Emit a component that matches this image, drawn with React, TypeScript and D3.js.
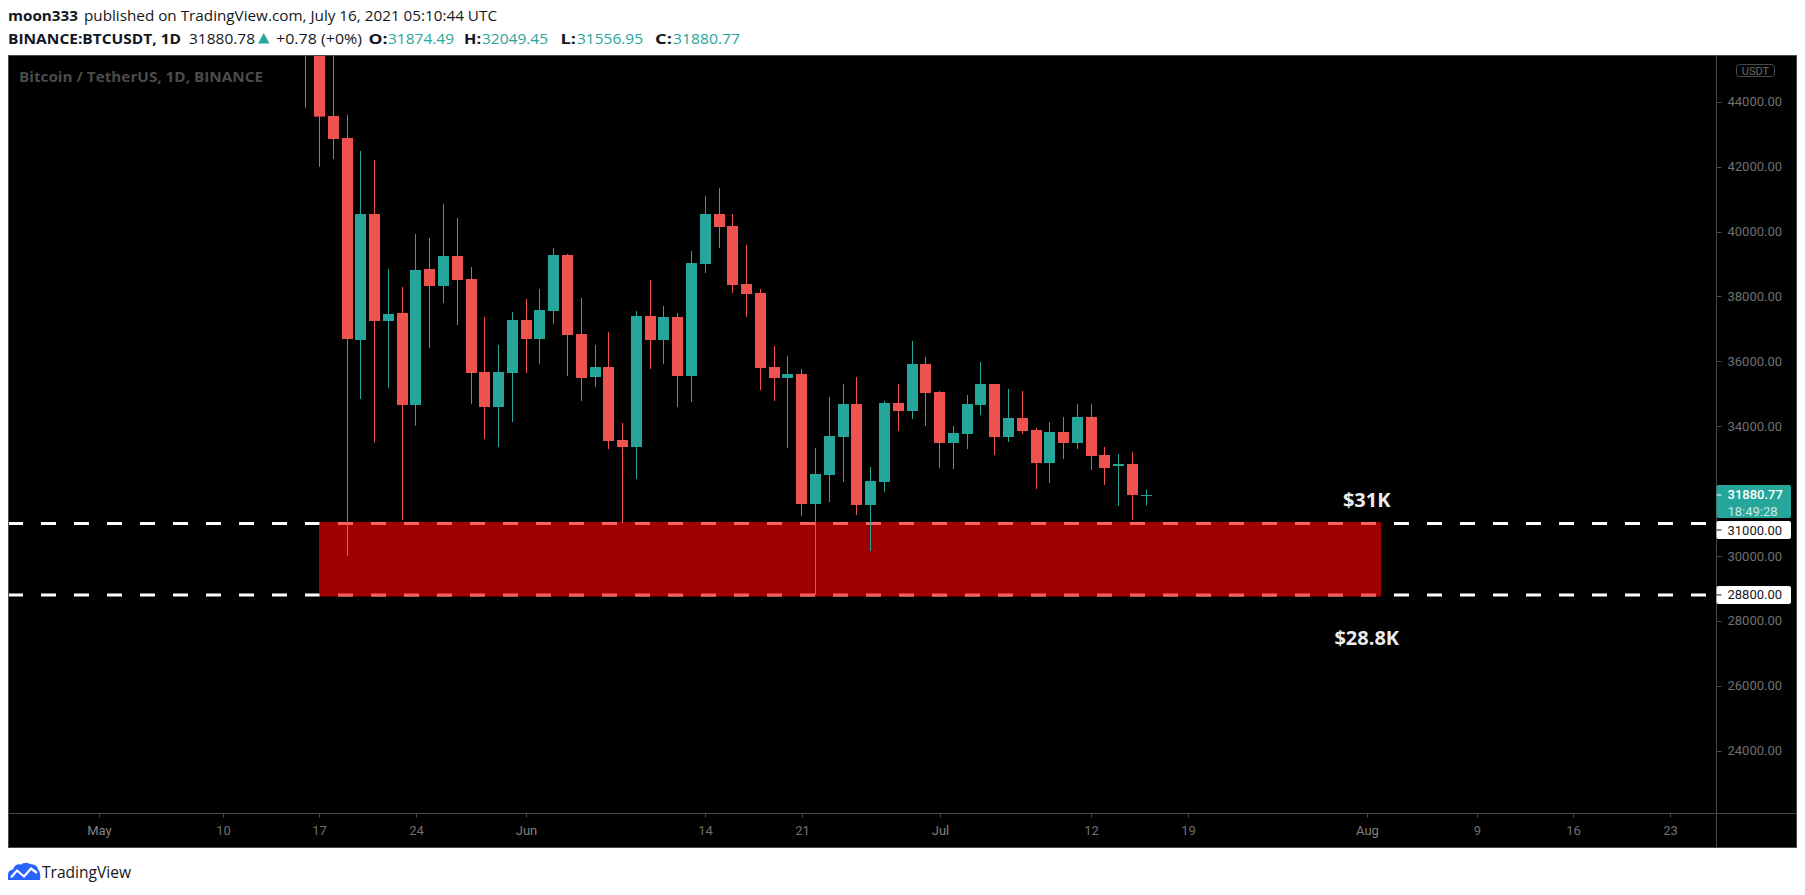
import React from "react";
import * as d3 from "d3";

const W = 1805;
const H = 895;

// daily candles, BINANCE:BTCUSDT
const days = [
  "2021-05-16", "2021-05-17", "2021-05-18", "2021-05-19", "2021-05-20", "2021-05-21", "2021-05-22",
  "2021-05-23", "2021-05-24", "2021-05-25", "2021-05-26", "2021-05-27", "2021-05-28", "2021-05-29",
  "2021-05-30", "2021-05-31", "2021-06-01", "2021-06-02", "2021-06-03", "2021-06-04", "2021-06-05",
  "2021-06-06", "2021-06-07", "2021-06-08", "2021-06-09", "2021-06-10", "2021-06-11", "2021-06-12",
  "2021-06-13", "2021-06-14", "2021-06-15", "2021-06-16", "2021-06-17", "2021-06-18", "2021-06-19",
  "2021-06-20", "2021-06-21", "2021-06-22", "2021-06-23", "2021-06-24", "2021-06-25", "2021-06-26",
  "2021-06-27", "2021-06-28", "2021-06-29", "2021-06-30", "2021-07-01", "2021-07-02", "2021-07-03",
  "2021-07-04", "2021-07-05", "2021-07-06", "2021-07-07", "2021-07-08", "2021-07-09", "2021-07-10",
  "2021-07-11", "2021-07-12", "2021-07-13", "2021-07-14", "2021-07-15", "2021-07-16",
];
const opens = [
  46762, 46426, 43559, 42881, 36657, 40539, 37242, 37489, 34654, 38845, 38321, 39245, 38536, 35670,
  34592, 35640, 37273, 36687, 37550, 39276, 36841, 35516, 35824, 33575, 33359, 37396, 36656, 37365,
  35547, 38998, 40539, 40169, 38382, 38105, 35824, 35485, 35609, 31603, 32496, 33667, 34684, 31572,
  32281, 34715, 34469, 35917, 35054, 33483, 33760, 34654, 35301, 33667, 34253, 33883, 32866, 33822,
  33483, 34284, 33113, 32774, 32835, 31874,
];
const highs = [
  49800, 46686, 45800, 43590, 42481, 42203, 38844, 38290, 39925, 39800, 40847, 40416, 38906, 37365,
  36502, 37519, 37920, 38228, 39491, 39307, 37951, 36502, 36903, 34099, 37550, 38505, 37704, 37488,
  39399, 41094, 41340, 40539, 39584, 38228, 36471, 36163, 35763, 33328, 34900, 35300, 35516, 32743,
  34777, 35301, 36626, 36133, 35085, 34006, 34962, 35979, 35301, 35147, 35085, 33945, 34130, 34284,
  34684, 34684, 33359, 33144, 33205, 32049,
];
const lows = [
  43816, 41998, 42234, 30000, 34838, 33493, 35177, 31110, 34017, 36410, 37797, 37119, 34684, 33606,
  33359, 34129, 35640, 35917, 37149, 35547, 34777, 35208, 33298, 31000, 32373, 35763, 35917, 34592,
  34746, 38721, 39492, 38105, 37365, 35115, 34777, 33328, 31233, 28805, 31664, 32281, 31264, 30151,
  31973, 33852, 34222, 34006, 32712, 32681, 33298, 34345, 33113, 33513, 33760, 32065, 32250, 32990,
  33298, 32651, 32188, 31541, 31110, 31557,
];
const closes = [
  46431, 43539, 42851, 36687, 40539, 37242, 37458, 34654, 38814, 38321, 39245, 38505, 35640, 34592,
  35670, 37273, 36687, 37581, 39276, 36811, 35485, 35824, 33544, 33359, 37396, 36656, 37365, 35547,
  39029, 40539, 40139, 38351, 38074, 35794, 35485, 35609, 31603, 32527, 33698, 34684, 31572, 32312,
  34715, 34469, 35917, 35023, 33483, 33791, 34684, 35301, 33667, 34253, 33852, 32866, 33822, 33483,
  34284, 33082, 32712, 32835, 31880, 31881,
];

const timeTicks = [
  "2021-05-01", "2021-05-10", "2021-05-17", "2021-05-24", "2021-06-01", "2021-06-14", "2021-06-21",
  "2021-07-01", "2021-07-12", "2021-07-19", "2021-08-01", "2021-08-09", "2021-08-16", "2021-08-23",
];
const timeLabels = ["May", "10", "17", "24", "Jun", "14", "21", "Jul", "12", "19", "Aug", "9", "16", "23"];

const priceTicks = [24000, 26000, 28000, 30000, 32000, 34000, 36000, 38000, 40000, 42000, 44000];

const levels = [31000, 28800];
const levelLabels = ["$31K", "$28.8K"];
const zoneDays = ["2021-05-17", "2021-08-02"];
const levelTextDay = "2021-08-01";

const lastPrice = 31880.77;

// legend line: [text, x, width, bold, teal]
const legendParts: [string, number, number, boolean, boolean][] = [
  ["BINANCE:BTCUSDT, 1D", 8, 173, true, false],
  ["31880.78", 189, 66, false, false],
  ["+0.78 (+0%)", 276, 86, false, false],
  ["O:", 368.5, 19, true, false],
  ["31874.49", 388, 66, false, true],
  ["H:", 464, 17, true, false],
  ["32049.45", 482, 66, false, true],
  ["L:", 560.5, 15.5, true, false],
  ["31556.95", 577, 66, false, true],
  ["C:", 655, 17, true, false],
  ["31880.77", 673, 67, false, true],
];

const UP = "#26a69a";
const DOWN = "#ef5350";
const GRID_LINE = "#4a4a4a";
const AXIS_TEXT = "#707070";

const left = 8;
const top = 55;
const right = 1797;
const bottom = 848;
const axisX = 1716.5;
const axisY = 813.5;

const parse = d3.utcParse("%Y-%m-%d");
const fmt = d3.format(".2f");

export default function App() {
  const x = d3
    .scaleUtc()
    .domain([parse("2021-05-01")!, parse("2021-08-23")!])
    .range([99, 1669.9]);
  const y = d3.scaleLinear().domain([24000, 44000]).range([750.7, 101.7]);

  const candles = days.map((d, i) => ({
    date: parse(d)!,
    o: opens[i],
    h: highs[i],
    l: lows[i],
    c: closes[i],
  }));

  const sans = "'Open Sans', sans-serif";
  const axisFont = "Roboto, sans-serif";

  const zoneX0 = Math.round(x(parse(zoneDays[0])!));
  const zoneX1 = Math.round(x(parse(zoneDays[1])!));
  const zoneY0 = y(levels[0]) - 1.5;
  const zoneY1 = y(levels[1]) + 1.5;
  const labelX = x(parse(levelTextDay)!);

  return (
    <svg
      width={W}
      height={H}
      style={{ position: "absolute", left: 0, top: 0, background: "#fff" }}
    >
      <defs>
        <clipPath id="plot">
          <rect x={left + 1} y={top + 1} width={axisX - left - 1} height={axisY - top - 1} />
        </clipPath>
      </defs>

      {/* header */}
      <g fontFamily={sans} fontSize={15} fill="#131722">
        <text x={8} y={21} fontWeight={700} textLength={70} lengthAdjust="spacingAndGlyphs">
          moon333
        </text>
        <text x={84} y={21} textLength={413} lengthAdjust="spacingAndGlyphs">
          published on TradingView.com, July 16, 2021 05:10:44 UTC
        </text>
        {legendParts.map(([t, lx, lw, b, teal]) => (
          <text
            key={t + lx}
            x={lx}
            y={44}
            fontWeight={b ? 700 : 400}
            fill={teal ? UP : "#131722"}
            textLength={lw}
            lengthAdjust="spacingAndGlyphs"
          >
            {t}
          </text>
        ))}
        <polygon points="258,43.5 269.5,43.5 263.75,33" fill={UP} />
      </g>

      {/* chart frame */}
      <rect x={left + 0.5} y={top + 0.5} width={right - left - 1} height={bottom - top - 1} fill="#000" stroke={GRID_LINE} />
      <line x1={axisX} x2={axisX} y1={top} y2={bottom} stroke={GRID_LINE} />
      <line x1={left} x2={right} y1={axisY} y2={axisY} stroke={GRID_LINE} />

      <g clipPath="url(#plot)">
        {/* horizontal levels, below the zone */}
        {levels.map((p) => (
          <line
            key={p}
            x1={left}
            x2={axisX}
            y1={y(p)}
            y2={y(p)}
            stroke="#fff"
            strokeWidth={3}
            strokeDasharray="15 18"
          />
        ))}
        <rect
          x={zoneX0}
          y={zoneY0}
          width={zoneX1 - zoneX0}
          height={zoneY1 - zoneY0}
          fill="rgba(255,0,0,0.63)"
        />

        {candles.map((d) => {
          const cx = Math.floor(x(d.date));
          const col = d.c >= d.o ? UP : DOWN;
          const bt = y(Math.max(d.o, d.c));
          const bb = y(Math.min(d.o, d.c));
          return (
            <g key={+d.date} fill={col}>
              <rect x={cx} y={y(d.h)} width={1} height={y(d.l) - y(d.h)} />
              <rect x={cx - 5} y={bt} width={11} height={Math.max(1, bb - bt)} />
            </g>
          );
        })}

        {levels.map((p, i) => (
          <text
            key={"lt" + p}
            x={labelX}
            y={i === 0 ? y(p) - 17 : y(p) + 50}
            textAnchor="middle"
            fontFamily={sans}
            fontWeight={700}
            fontSize={20}
            fill="#ececec"
          >
            {levelLabels[i]}
          </text>
        ))}
      </g>

      <text
        x={19}
        y={81.5}
        fontFamily={sans}
        fontWeight={700}
        fontSize={15}
        fill="#4b4b4b"
        textLength={244}
        lengthAdjust="spacingAndGlyphs"
      >
        Bitcoin / TetherUS, 1D, BINANCE
      </text>

      {/* price axis */}
      <rect x={1736.5} y={64.5} width={38} height={12} rx={3} fill="none" stroke="#4a4a4a" />
      <text x={1755.5} y={74.5} textAnchor="middle" fontFamily={axisFont} fontSize={11} fill="#6a6a6a">
        USDT
      </text>
      {priceTicks.map((p) => (
        <g key={p}>
          <line x1={axisX} x2={axisX + 5} y1={Math.round(y(p)) + 0.5} y2={Math.round(y(p)) + 0.5} stroke="#4a4a4a" />
          <text x={1727.5} y={y(p)} dy="0.35em" fontFamily={axisFont} fontSize={13} fill={AXIS_TEXT}>
            {fmt(p)}
          </text>
        </g>
      ))}

      {/* level price labels */}
      {levels.map((p, i) => {
        const cy = i === 0 ? 530 : y(p);
        return (
          <g key={"pl" + p}>
            <rect x={axisX} y={cy - 9} width={74.5} height={18} rx={2} fill="#fff" />
            <line x1={axisX} x2={axisX + 5} y1={cy} y2={cy} stroke="#131722" />
            <text x={1727.5} y={cy} dy="0.35em" fontFamily={axisFont} fontSize={13} fill="#131722">
              {fmt(p)}
            </text>
          </g>
        );
      })}

      {/* last price label */}
      <rect x={axisX} y={485} width={74.5} height={33} rx={2} fill={UP} />
      <line x1={axisX} x2={axisX + 5} y1={y(lastPrice)} y2={y(lastPrice)} stroke="#fff" />
      <text x={1727.5} y={494} dy="0.35em" fontFamily={axisFont} fontWeight={500} fontSize={13} fill="#fff">
        {fmt(lastPrice)}
      </text>
      <text x={1727.5} y={511} dy="0.35em" fontFamily={axisFont} fontSize={13} fill="rgba(255,255,255,0.75)">
        18:49:28
      </text>

      {/* time axis */}
      {timeTicks.map((t, i) => {
        const tx = Math.round(x(parse(t)!)) + 0.5;
        const isMonth = isNaN(+timeLabels[i]);
        return (
          <g key={t}>
            <line x1={tx} x2={tx} y1={axisY} y2={axisY + 4} stroke="#4a4a4a" />
            <text
              x={tx}
              y={830}
              dy="0.35em"
              textAnchor="middle"
              fontFamily={axisFont}
              fontSize={13}
              fill={isMonth ? "#808080" : AXIS_TEXT}
            >
              {timeLabels[i]}
            </text>
          </g>
        );
      })}

      {/* footer logo */}
      <g>
        <path
          d="M8,880 L8,875 Q8,870 13,869.5 Q15,863.5 21,864.5 Q25,861.5 30,864 Q37,864 38.5,870 Q41,873 40,880 Z"
          fill="#2962ff"
        />
        <polyline
          points="11,877.5 17,870.5 24,876.5 31,868.5 37,873"
          fill="none"
          stroke="#fff"
          strokeWidth={2.2}
          strokeLinejoin="round"
        />
        <text x={42} y={878} fontFamily={sans} fontSize={16} fill="#131722" textLength={89} lengthAdjust="spacingAndGlyphs">
          TradingView
        </text>
      </g>
    </svg>
  );
}
